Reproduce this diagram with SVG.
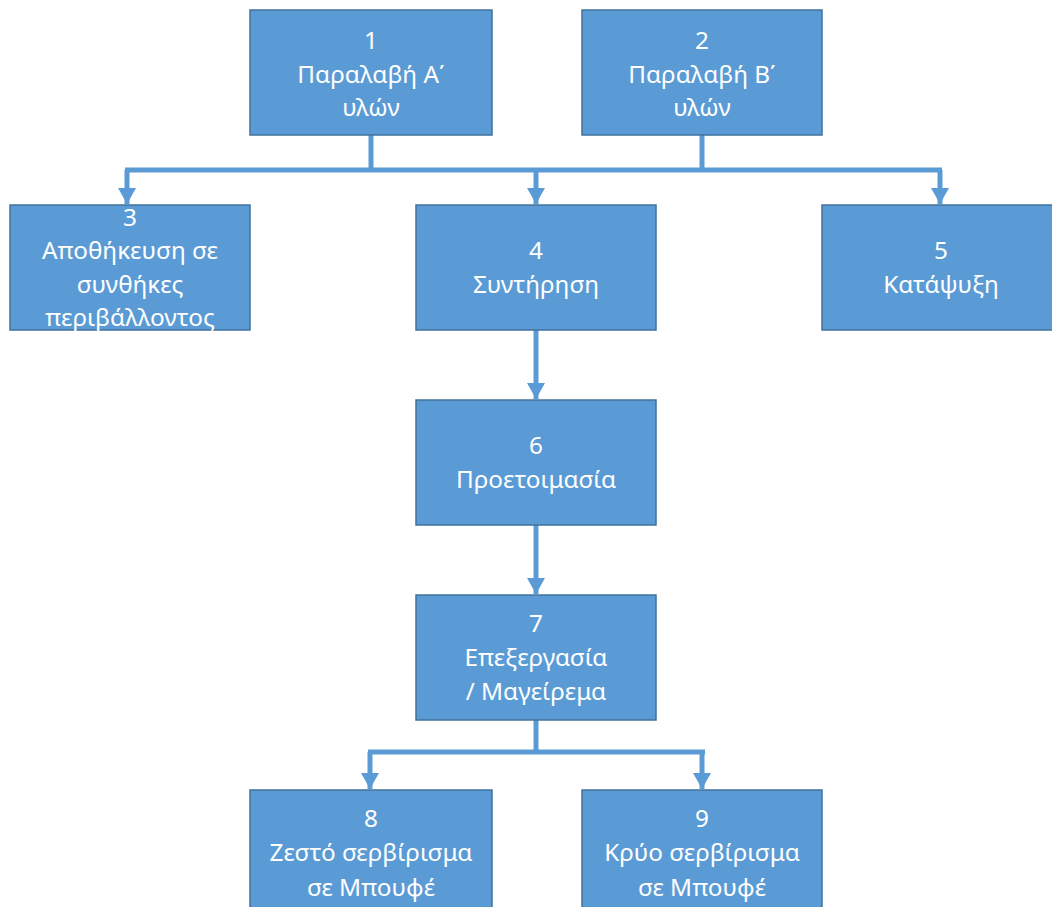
<svg xmlns="http://www.w3.org/2000/svg" width="1052" height="907" viewBox="0 0 1052 907">
<style>
.box{fill:#5B9BD5;stroke:#41719C;stroke-width:1.5}
.t{font-family:"Noto Sans","Open Sans","Liberation Sans",sans-serif;font-size:24.3px;fill:#FFFFFF;text-anchor:middle}
.c{fill:none;stroke:#5B9BD5;stroke-width:5}
</style>
<defs>
<marker id="ah" markerUnits="userSpaceOnUse" markerWidth="18" markerHeight="18" refX="16" refY="9" orient="auto">
<path d="M0,0 L16,9 L0,18 Z" fill="#5B9BD5"/>
</marker>
</defs>
<rect width="1052" height="907" fill="#FFFFFF"/>
<g id="connectors">
<path class="c" d="M371,135 V170"/>
<path class="c" d="M702,135 V170"/>
<path class="c" d="M125,170 H942"/>
<path class="c" d="M127,170 V204" marker-end="url(#ah)"/>
<path class="c" d="M536,170 V204" marker-end="url(#ah)"/>
<path class="c" d="M940,170 V204" marker-end="url(#ah)"/>
<path class="c" d="M536,330 V399" marker-end="url(#ah)"/>
<path class="c" d="M536,525 V594" marker-end="url(#ah)"/>
<path class="c" d="M536,720 V752"/>
<path class="c" d="M368,752 H705"/>
<path class="c" d="M370,752 V789" marker-end="url(#ah)"/>
<path class="c" d="M702,752 V789" marker-end="url(#ah)"/>
</g>
<g id="n1"><rect class="box" x="250" y="10" width="242" height="125"/>
<text class="t" x="371" y="49">1</text><text class="t" x="371" y="83">Παραλαβή Α΄</text><text class="t" x="371" y="116">υλών</text></g>
<g id="n2"><rect class="box" x="582" y="10" width="240" height="125"/>
<text class="t" x="702" y="49">2</text><text class="t" x="702" y="83">Παραλαβή Β΄</text><text class="t" x="702" y="116">υλών</text></g>
<g id="n3"><rect class="box" x="10" y="205" width="240" height="125"/>
<text class="t" x="130" y="226">3</text><text class="t" x="130" y="259">Αποθήκευση σε</text><text class="t" x="130" y="293">συνθήκες</text><text class="t" x="130" y="326">περιβάλλοντος</text></g>
<g id="n4"><rect class="box" x="416" y="205" width="240" height="125"/>
<text class="t" x="536" y="259">4</text><text class="t" x="536" y="293">Συντήρηση</text></g>
<g id="n5"><rect class="box" x="822" y="205" width="240" height="125"/>
<text class="t" x="941" y="259">5</text><text class="t" x="941" y="293">Κατάψυξη</text></g>
<g id="n6"><rect class="box" x="416" y="400" width="240" height="125"/>
<text class="t" x="536" y="454">6</text><text class="t" x="536" y="488">Προετοιμασία</text></g>
<g id="n7"><rect class="box" x="416" y="595" width="240" height="125"/>
<text class="t" x="536" y="632">7</text><text class="t" x="536" y="666">Επεξεργασία</text><text class="t" x="536" y="700">/ Μαγείρεμα</text></g>
<g id="n8"><rect class="box" x="250" y="790" width="242" height="125"/>
<text class="t" x="371" y="827">8</text><text class="t" x="371" y="861">Ζεστό σερβίρισμα</text><text class="t" x="371" y="896">σε Μπουφέ</text></g>
<g id="n9"><rect class="box" x="582" y="790" width="240" height="125"/>
<text class="t" x="702" y="827">9</text><text class="t" x="702" y="861">Κρύο σερβίρισμα</text><text class="t" x="702" y="896">σε Μπουφέ</text></g>
</svg>
